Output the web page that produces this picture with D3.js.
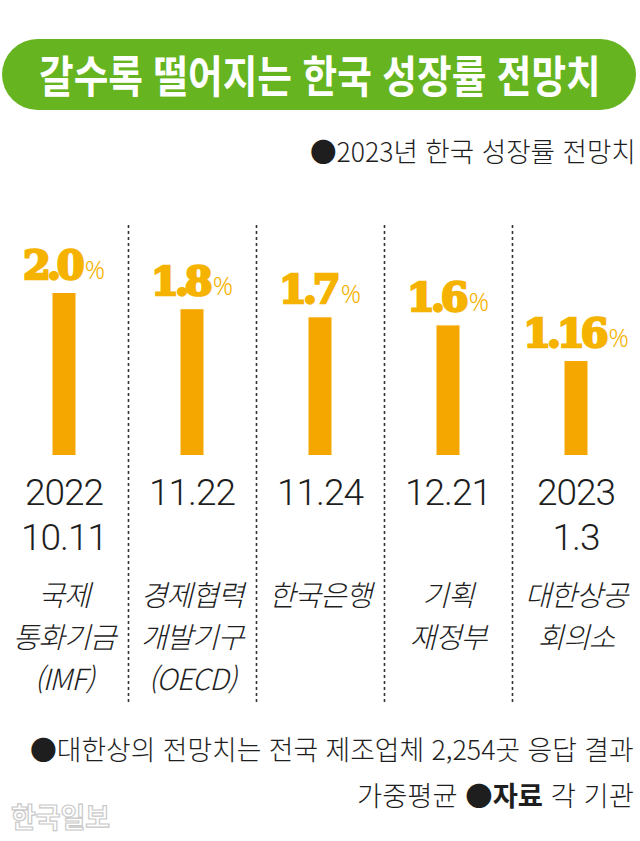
<!DOCTYPE html>
<html lang="ko">

<head>
  <meta charset="UTF-8">
  <script src="https://d3js.org/d3.v7.min.js"></script>
  <title>갈수록 떨어지는 한국 성장률 전망치</title>
  <style>
    body {
      margin: 0;
      background: white;
      font-family: 'Noto Sans CJK KR', 'Noto Sans', sans-serif;
    }
  </style>
</head>

<body>
  <svg id='chart' width='640' height='841'></svg>

  <script>
    // data
    const values = [2.0, 1.8, 1.7, 1.6, 1.16];
    const valueLabels = ["2.0", "1.8", "1.7", "1.6", "1.16"];
    const dates = [["2022", "10.11"], ["11.22"], ["11.24"], ["12.21"], ["2023", "1.3"]];
    const agencies = [["국제", "통화기금", "(IMF)"], ["경제협력", "개발기구", "(OECD)"], ["한국은행"], ["기획", "재정부"], ["대한상공", "회의소"]];

    const svg = d3.select("#chart");
    const width = 640;

    const green = '#66b520';
    const barColor = '#f5a700';
    const labelColor = '#f5b300';
    const textColor = '#1e1e1e';

    // squeeze a text horizontally so it fills a given width (the original uses a condensed face)
    function fit(sel, px, py, w) {
      const len = sel.node().getComputedTextLength();
      const s = w / len;
      sel.attr('x', 0).attr('y', 0)
        .attr('transform', 'translate(' + px + ',' + py + ') scale(' + s + ',1)');
    }

    // title pill
    svg.append('rect')
      .attr('x', 2).attr('y', 39)
      .attr('width', 634).attr('height', 71)
      .attr('rx', 35.5)
      .style('fill', green);

    const title = svg.append('text')
      .text('갈수록 떨어지는 한국 성장률 전망치')
      .style('fill', 'white')
      .style('font-size', '44px')
      .style('font-weight', 'bold');
    fit(title, 39, 93, 562);

    const sub = svg.append('text')
      .text('●2023년 한국 성장률 전망치')
      .style('fill', textColor)
      .style('font-size', '27px')
      .style('font-weight', '300');
    fit(sub, 310, 162, 326);

    // scales
    const x = d3.scaleBand()
      .domain(d3.range(values.length))
      .range([0, width]);

    const y = d3.scaleLinear()
      .domain([0, 2])
      .range([455, 293]);

    const barW = 23;

    // dashed dividers between columns
    svg.selectAll('line.divider').data(d3.range(1, values.length))
      .join('line')
      .attr('class', 'divider')
      .attr('x1', d => Math.round(x(d)) + 0.5)
      .attr('x2', d => Math.round(x(d)) + 0.5)
      .attr('y1', 225)
      .attr('y2', 702)
      .style('stroke', '#333')
      .style('stroke-width', 1.6)
      .style('stroke-dasharray', '3,3');

    svg.selectAll('rect.bar').data(values)
      .join('rect')
      .attr('class', 'bar')
      .attr('x', (d, i) => x(i) + x.bandwidth() / 2 - barW / 2)
      .attr('y', d => y(d))
      .attr('width', barW)
      .attr('height', d => y(0) - y(d))
      .style('fill', barColor);

    // value labels
    const lab = svg.selectAll('text.value').data(values)
      .join('text')
      .attr('class', 'value')
      .attr('x', (d, i) => x(i) + x.bandwidth() / 2)
      .attr('y', d => y(d) - 14)
      .attr('text-anchor', 'middle')
      .style('fill', labelColor);

    lab.append('tspan')
      .text((d, i) => valueLabels[i])
      .style('font-family', "'DejaVu Serif', serif")
      .style('font-weight', 'bold')
      .style('font-size', '40px')
      .style('letter-spacing', '-4px')
      .style('stroke', labelColor)
      .style('stroke-width', 2.5);

    lab.append('tspan')
      .text('%')
      .attr('dx', 4)
      .style('font-family', "'Noto Sans', sans-serif")
      .style('font-weight', '300')
      .style('font-size', '25px');

    // dates
    dates.forEach((lines, i) => {
      lines.forEach((t, j) => {
        svg.append('text')
          .text(t)
          .attr('x', x(i) + x.bandwidth() / 2)
          .attr('y', 505 + j * 45)
          .attr('text-anchor', 'middle')
          .style('fill', textColor)
          .style('font-family', "Roboto, 'Noto Sans', sans-serif")
          .style('font-size', '37px')
          .style('font-weight', '300')
          .style('letter-spacing', '-1px');
      });
    });

    // agencies
    agencies.forEach((lines, i) => {
      lines.forEach((t, j) => {
        svg.append('text')
          .text(t)
          .attr('x', x(i) + x.bandwidth() / 2)
          .attr('y', 606 + j * 42)
          .attr('text-anchor', 'middle')
          .style('fill', textColor)
          .style('font-size', '29px')
          .style('font-weight', '300')
          .style('font-style', 'italic')
          .style('letter-spacing', '-1px');
      });
    });

    // notes
    const note1 = svg.append('text')
      .text('●대한상의 전망치는 전국 제조업체 2,254곳 응답 결과')
      .style('fill', textColor)
      .style('font-size', '27px')
      .style('font-weight', '300');
    fit(note1, 30, 760, 604);

    const note2 = svg.append('text')
      .style('fill', textColor)
      .style('font-size', '27px')
      .style('font-weight', '300');
    note2.append('tspan').text('가중평균  ●');
    note2.append('tspan').text('자료').style('font-weight', 'bold');
    note2.append('tspan').text('  각 기관');
    fit(note2, 357, 806, 277);

    // watermark
    const mark = svg.append('text')
      .text('한국일보')
      .style('fill', 'white')
      .style('stroke', '#c8c8c8')
      .style('stroke-width', 1.2)
      .style('font-size', '28px')
      .style('font-weight', 'bold');
    fit(mark, 11, 828, 99);
  </script>
</body>

</html>
